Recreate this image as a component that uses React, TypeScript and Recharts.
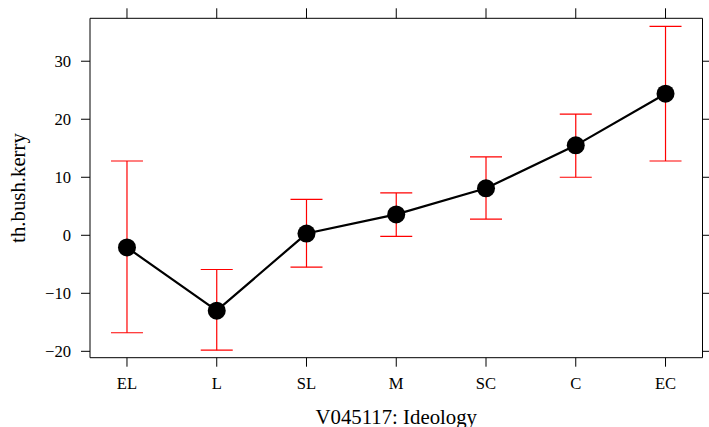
import React from 'react';
import { ComposedChart, Line, ErrorBar, XAxis, YAxis, Label } from 'recharts';

// ideology groups, as on the x axis
const categories = ['EL', 'L', 'SL', 'M', 'SC', 'C', 'EC'];
// point estimates and interval bounds
const estimates = [-2.1, -13.0, 0.3, 3.6, 8.1, 15.5, 24.4];
const lowerBounds = [-16.8, -19.8, -5.5, -0.2, 2.8, 10.0, 12.8];
const upperBounds = [12.8, -5.9, 6.2, 7.3, 13.5, 20.9, 36.0];
const yTicks = [-20, -10, 0, 10, 20, 30];

const xPositions = categories.map((_, i) => i + 1);

const chartData = categories.map((name, i) => ({
  x: xPositions[i],
  name,
  est: estimates[i],
  // ErrorBar wants distances below / above the estimate
  err: [estimates[i] - lowerBounds[i], upperBounds[i] - estimates[i]],
}));

const FONT = '"Liberation Serif", "Times New Roman", serif';
const xDomain: [number, number] = [0.588, 7.412];
const yDomain: [number, number] = [-21.1, 37.4];

// tick marks only, no label (top and right frame)
const EmptyTick = () => <g />;

const XTick = (props: any) => {
  const { x, y, payload } = props;
  return (
    <text x={x} y={y} dy="0.71em" textAnchor="middle" fontSize={16.6} fontFamily={FONT} fill="#000">
      {categories[payload.value - 1]}
    </text>
  );
};

const YTick = (props: any) => {
  const { x, y, payload } = props;
  return (
    <text x={x} y={y} dy="0.34em" textAnchor="end" fontSize={16.6} fontFamily={FONT} fill="#000">
      {String(payload.value).replace('-', '\u2212')}
    </text>
  );
};

const YTitle = (props: any) => {
  const vb = props.viewBox || {};
  const cx = 17;
  const cy = vb.y + vb.height / 2;
  return (
    <text
      x={cx}
      y={cy}
      transform={`rotate(-90, ${cx}, ${cy})`}
      textAnchor="middle"
      dominantBaseline="central"
      fontSize={20.8}
      fontFamily={FONT}
      fill="#000"
    >
      th.bush.kerry
    </text>
  );
};

const XTitle = (props: any) => {
  const vb = props.viewBox || {};
  return (
    <text
      x={vb.x + vb.width / 2}
      y={424}
      textAnchor="middle"
      fontSize={20.8}
      fontFamily={FONT}
      fill="#000"
    >
      V045117: Ideology
    </text>
  );
};

const App: React.FC = () => {
  return (
    <div style={{ position: 'absolute', left: 0, top: 0, background: '#fff' }}>
      <ComposedChart
        width={709}
        height={427}
        data={chartData}
        margin={{ top: 0, right: 0, bottom: 0, left: 0 }}
      >
        <XAxis
          dataKey="x"
          type="number"
          domain={xDomain}
          ticks={xPositions}
          allowDataOverflow
          tick={XTick}
          tickSize={9}
          tickMargin={11}
          height={69.3}
          stroke="#000"
          interval={0}
        >
          <Label content={<XTitle />} />
        </XAxis>
        <XAxis
          xAxisId="top"
          orientation="top"
          dataKey="x"
          type="number"
          domain={xDomain}
          ticks={xPositions}
          allowDataOverflow
          tick={EmptyTick}
          tickSize={10}
          height={18.3}
          stroke="#000"
          interval={0}
        />
        <YAxis
          type="number"
          domain={yDomain}
          ticks={yTicks}
          allowDataOverflow
          tick={YTick}
          tickSize={9}
          tickMargin={10}
          width={90}
          stroke="#000"
          interval={0}
        >
          <Label content={<YTitle />} />
        </YAxis>
        <YAxis
          yAxisId="right"
          orientation="right"
          type="number"
          domain={yDomain}
          ticks={yTicks}
          allowDataOverflow
          tick={EmptyTick}
          tickSize={7}
          width={6.5}
          stroke="#000"
          interval={0}
        />
        <Line
          dataKey="est"
          stroke="#000"
          strokeWidth={2.2}
          dot={{ r: 9, fill: '#000', stroke: '#000', strokeWidth: 0 }}
          activeDot={false}
          isAnimationActive={false}
        >
          <ErrorBar
            dataKey="err"
            direction="y"
            width={16}
            stroke="#ff0000"
            strokeWidth={1.2}
            isAnimationActive={false}
          />
        </Line>
      </ComposedChart>
    </div>
  );
};

export default App;
